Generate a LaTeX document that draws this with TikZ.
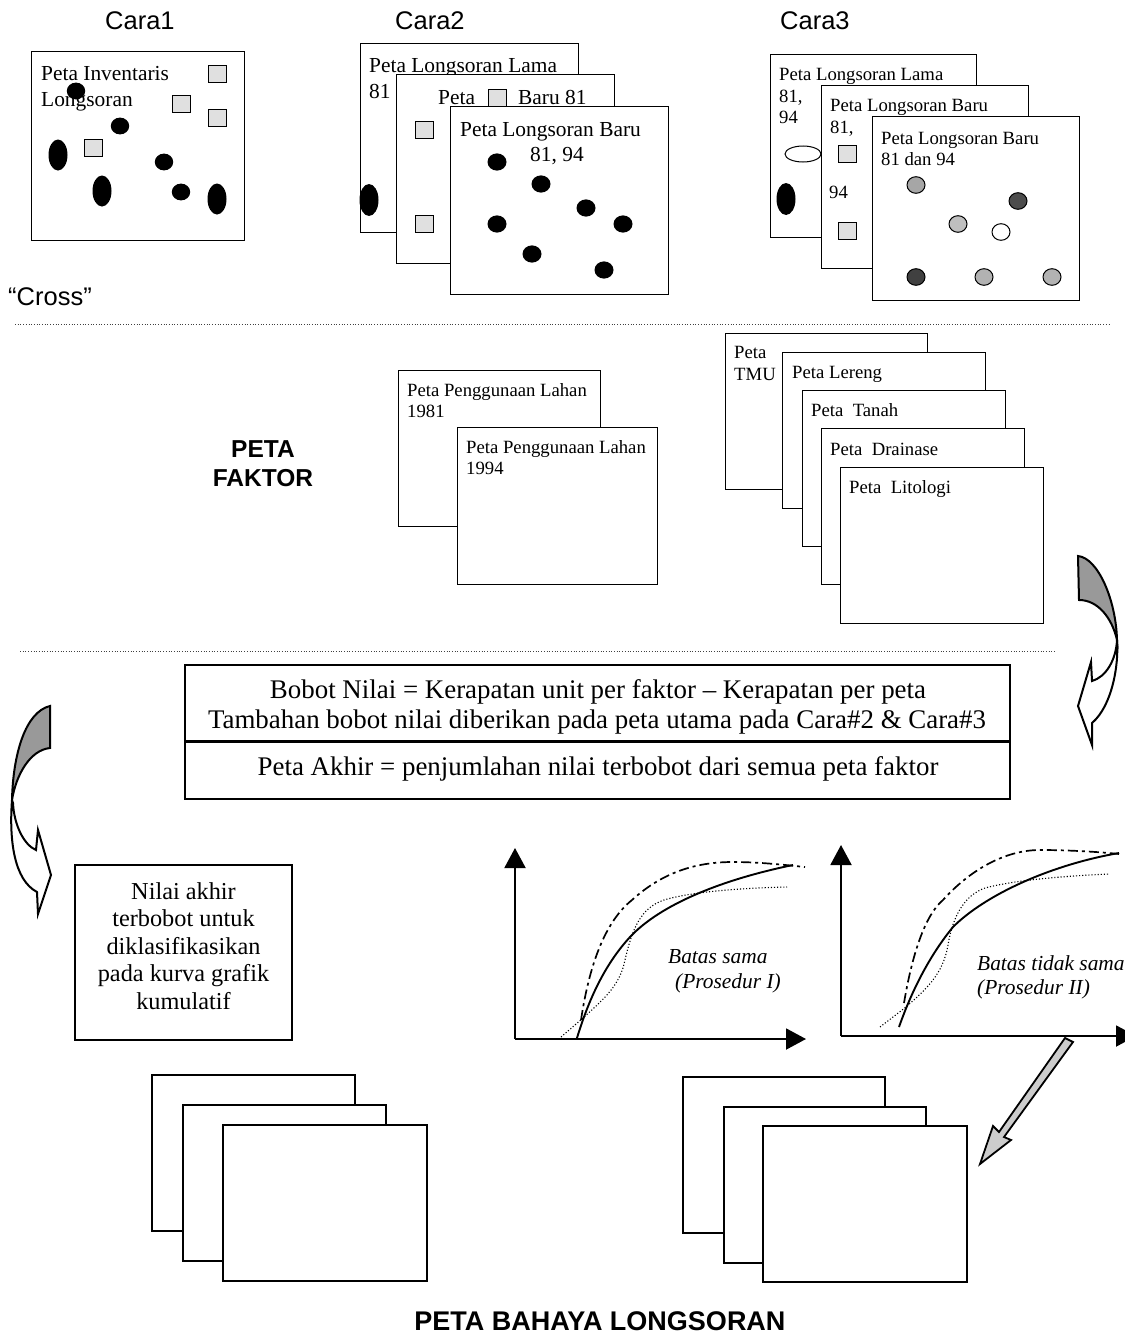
\documentclass[tikz,border=0pt]{standalone}
\usepackage{fontspec}
\setmainfont{Liberation Serif}
\setsansfont{Liberation Sans}
\usetikzlibrary{arrows.meta}
\newcommand{\mapbox}[6][mapsheet]{%
  \pgfmathsetmacro{\mbw}{#5-#3}\pgfmathsetmacro{\mbh}{#6-#4}%
  \node[#1,minimum width=\mbw pt,minimum height=\mbh pt] (#2) at (#3,#4) {};}
\newcommand{\txt}[5][maptext]{\node[#1] (#2) at (#3,#4) {#5};}
\tikzset{
  mapsheet/.style={draw=black,fill=white,line width=1pt,anchor=north west,inner sep=0pt,outer sep=0pt},
  thicksheet/.style={mapsheet,line width=1.5pt},
  maptext/.style={anchor=base west,inner sep=0pt,yshift=-1pt,font=\fontsize{21.4}{24}\selectfont},
  smalltext/.style={maptext,font=\fontsize{18.7}{21}\selectfont},
  facttext/.style={maptext,font=\fontsize{18.7}{21}\selectfont},
  headtext/.style={anchor=base west,inner sep=0pt,font=\sffamily\fontsize{25.5}{28}\selectfont},
  boldhead/.style={anchor=center,inner sep=0pt,align=center,font=\sffamily\bfseries\fontsize{24.5}{29}\selectfont},
  titletext/.style={anchor=center,inner sep=0pt,font=\sffamily\bfseries\fontsize{27}{30}\selectfont},
  maintext/.style={anchor=center,inner sep=0pt,font=\fontsize{26.9}{30}\selectfont},
  nilai/.style={anchor=center,inner sep=0pt,align=center,font=\fontsize{24.3}{27.4}\selectfont},
  ital/.style={anchor=base west,inner sep=0pt,font=\itshape\fontsize{21.4}{24}\selectfont},
  blob/.style={fill=black,draw=none},
  gridsq/.style={draw=black,line width=1pt,fill=black!12},
  sepline/.style={line width=.7pt,dotted,black!75},
  axisline/.style={line width=2pt,-{Triangle[length=20pt,width=21pt]}},
  solidcurve/.style={line width=1.9pt},
  dashcurve/.style={line width=1.7pt,dash pattern=on 10pt off 4pt on 3pt off 4pt},
  dotcurve/.style={line width=1.1pt,dotted},
  blockarrow/.style={draw=black,line width=2pt,line join=miter,fill=white},
  shadedarrow/.style={draw=black,line width=2pt,fill=black!40},
}
\newcommand{\blobell}[4]{\fill[blob] (#1,#2) ellipse [x radius=#3,y radius=#4];}
\newcommand{\gsq}[2]{\draw[gridsq] (#1-9,#2-8.5) rectangle (#1+9,#2+8.5);}
\newcommand{\gdot}[3]{\draw[line width=1pt,fill=black!#3] (#1,#2) ellipse [x radius=9,y radius=8.3];}
\begin{document}
\begin{tikzpicture}[x=1pt,y=-1pt]
\useasboundingbox (0,0) rectangle (1124,1335);
\fill[white] (0,0) rectangle (1124,1335);
% headings
\txt[headtext]{c1}{105}{30}{Cara1}
\txt[headtext]{c2}{395}{30}{Cara2}
\txt[headtext]{c3}{780}{30}{Cara3}
\txt[headtext]{cross}{8}{305}{“Cross”}
% Cara 1
\mapbox{m1}{31}{52}{244}{240}
\txt{m1t}{41}{80}{Peta Inventaris}
\txt{m1u}{41}{106}{Longsoran}
\foreach \p/\q in {76/91,120/126,164/162,181/192}{\blobell{\p}{\q}{9.2}{8.4}}
\foreach \p/\q in {58/155,102/191,217/199}{\blobell{\p}{\q}{9.5}{15.5}}
\foreach \p/\q in {217/74,181/104,217/118,93/148}{\gsq{\p}{\q}}
% Cara 2
\mapbox{m2a}{360}{44}{578}{232}
\txt{m2at}{369}{72}{Peta Longsoran Lama}
\txt{m2au}{369}{98}{81}
\blobell{369}{200}{9.5}{16}
\mapbox{m2b}{396}{75}{614}{263}
\txt{m2bt}{438}{104}{Peta}
\txt{m2bu}{518}{104}{Baru 81}
\foreach \p/\q in {497/98,424/130,424/224}{\gsq{\p}{\q}}
\mapbox{m2c}{450}{107}{668}{294}
\txt{m2ct}{460}{135}{Peta Longsoran Baru}
\txt{m2cu}{530}{160}{81, 94}
\foreach \p/\q in {497/162,541/184,586/208,623/224,497/224,532/254,604/270}{\blobell{\p}{\q}{9.5}{8.6}}
% Cara 3
\mapbox{m3a}{770}{55}{976}{237}
\txt[smalltext]{m3at}{779}{80}{Peta Longsoran Lama}
\txt[smalltext]{m3au}{779}{102}{81,}
\txt[smalltext]{m3av}{779}{123}{94}
\draw[line width=1pt] (803,154) ellipse [x radius=18,y radius=8];
\blobell{786}{199}{9.5}{16}
\mapbox{m3b}{821}{86}{1028}{268}
\txt[smalltext]{m3bt}{830}{111}{Peta Longsoran Baru}
\txt[smalltext]{m3bu}{830}{133}{81,}
\txt[smalltext]{m3bv}{829}{197}{94}
\foreach \p/\q in {847/154,847/231}{\gsq{\p}{\q}}
\mapbox{m3c}{872}{117}{1079}{300}
\txt[smalltext]{m3ct}{881}{143}{Peta Longsoran Baru}
\txt[smalltext]{m3cu}{881}{164}{81 dan 94}
\gdot{916}{185}{35}\gdot{1018}{201}{70}\gdot{958}{224}{25}\gdot{1001}{232}{0}
\gdot{916}{277}{75}\gdot{984}{277}{30}\gdot{1052}{277}{30}
% separators
\coordinate (s1a) at (15,324); \coordinate (s1b) at (1110,324);
\coordinate (s2a) at (20,651); \coordinate (s2b) at (1055,651);
\draw[sepline] (s1a) -- (s1b);
\draw[sepline] (s2a) -- (s2b);
% factor maps
\node[boldhead] (pf) at (263,464) {PETA\\FAKTOR};
\mapbox{f1}{398}{370}{600}{526}
\txt[facttext]{f1t}{407}{395}{Peta Penggunaan Lahan}
\txt[facttext]{f1u}{407}{416}{1981}
\mapbox{f2}{457}{427}{657}{584}
\txt[facttext]{f2t}{466}{452}{Peta Penggunaan Lahan}
\txt[facttext]{f2u}{466}{473}{1994}
\mapbox{g1}{725}{333}{927}{489}
\txt[facttext]{g1t}{734}{357}{Peta}
\txt[facttext]{g1u}{734}{379}{TMU}
\mapbox{g2}{782}{352}{985}{508}
\txt[facttext]{g2t}{792}{377}{Peta Lereng}
\mapbox{g3}{802}{390}{1005}{546}
\txt[facttext]{g3t}{811}{415}{Peta\ \ Tanah}
\mapbox{g4}{821}{428}{1024}{584}
\txt[facttext]{g4t}{830}{454}{Peta\ \ Drainase}
\mapbox{g5}{840}{467}{1043}{623}
\txt[facttext]{g5t}{849}{492}{Peta\ \ Litologi}
% curved arrows
\draw[blockarrow] (1117,640) .. controls (1119,665) and (1112,706) .. (1092,723) -- (1092,745) -- (1078,706) -- (1091,662) -- (1092,681) .. controls (1106,677) and (1116,660) .. (1117,640) -- cycle;
\draw[shadedarrow] (1078,556) .. controls (1098,558) and (1116,600) .. (1117,640) .. controls (1112,618) and (1098,600) .. (1079,600) -- cycle;
\draw[blockarrow] (12,800) .. controls (9,840) and (14,880) .. (37,892) -- (38,914) -- (51,875) -- (38,830) -- (36,850) .. controls (24,845) and (14,825) .. (13,803) -- cycle;
\draw[shadedarrow] (50,706) .. controls (25,712) and (13,755) .. (12,800) .. controls (16,775) and (30,750) .. (50,748) -- cycle;
% formula box
\mapbox[thicksheet]{big}{185}{665}{1010}{799}
\coordinate (bigl) at (185,741); \coordinate (bigr) at (1010,741);
\draw[line width=3pt] (bigl) -- (bigr);
\node[maintext] (b1) at (598,692) {Bobot Nilai = Kerapatan unit per faktor – Kerapatan per peta};
\node[maintext] (b2) at (597,722) {Tambahan bobot nilai diberikan pada peta utama pada Cara\#2 \& Cara\#3};
\node[maintext] (b3) at (598,769) {Peta Akhir = penjumlahan nilai terbobot dari semua peta faktor};
% nilai box
\mapbox[thicksheet]{nb}{75}{865}{292}{1040}
\node[nilai] (nt) at (183.5,946) {Nilai akhir\\terbobot untuk\\diklasifikasikan\\pada kurva grafik\\kumulatif};
% graph 1
\coordinate (o1) at (515,1039); \coordinate (y1) at (515,848); \coordinate (x1) at (806,1039);
\draw[axisline] (o1) -- (y1);
\draw[axisline] (o1) -- (x1);
\draw[solidcurve] (577,1038) .. controls (590,995) and (607,962) .. (630,937) .. controls (660,905) and (720,880) .. (793,865);
\draw[dashcurve] (581,1020) .. controls (590,960) and (607,920) .. (632,900) .. controls (665,870) and (700,862) .. (733,862) .. controls (760,862) and (785,865) .. (805,867);
\draw[dotcurve] (561,1037) -- (583,1018) .. controls (605,998) and (620,985) .. (625,960) .. controls (632,930) and (640,908) .. (664,900) .. controls (690,892) and (740,888) .. (787,887);
\txt[ital]{g1a}{668}{963}{Batas sama}
\txt[ital]{g1b}{675}{988}{(Prosedur I)}
% graph 2
\coordinate (o2) at (841,1036); \coordinate (y2) at (841,845); \coordinate (x2) at (1136,1036);
\draw[axisline] (o2) -- (y2);
\draw[axisline] (o2) -- (x2);
\draw[solidcurve] (899,1027) .. controls (912,990) and (930,955) .. (953,927) .. controls (985,895) and (1050,865) .. (1119,853);
\draw[dashcurve] (904,1003) .. controls (912,955) and (925,915) .. (943,900) .. controls (970,870) and (1005,850) .. (1040,850) .. controls (1070,850) and (1100,852) .. (1119,854);
\draw[dotcurve] (880,1027) -- (906,1007) .. controls (925,990) and (943,975) .. (948,945) .. controls (953,915) and (965,895) .. (985,888) .. controls (1015,880) and (1065,876) .. (1109,874);
\txt[ital]{g2a}{977}{970}{Batas tidak sama}
\txt[ital]{g2b}{977}{994}{(Prosedur II)}
% bottom stacks
\mapbox[thicksheet]{p1}{152}{1075}{355}{1231}
\mapbox[thicksheet]{p2}{183}{1105}{386}{1261}
\mapbox[thicksheet]{p3}{223}{1125}{427}{1281}
\mapbox[thicksheet]{q1}{683}{1077}{885}{1233}
\mapbox[thicksheet]{q2}{724}{1107}{926}{1263}
\mapbox[thicksheet]{q3}{763}{1126}{967}{1282}
% block arrow
\draw[line width=1.8pt,line join=miter,fill=black!20] (1065,1038) -- (1073,1042) -- (1004,1137) -- (1011,1140) -- (980,1164) -- (993,1126) -- (999,1132) -- cycle;
\node[titletext] (title) at (600,1321) {PETA BAHAYA LONGSORAN};
\end{tikzpicture}
\end{document}
